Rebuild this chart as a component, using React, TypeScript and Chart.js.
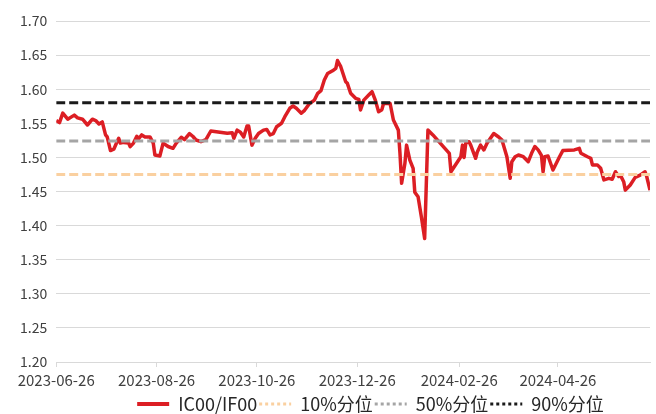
import React, { useEffect, useRef } from "react";
import { Chart, registerables } from "chart.js";

Chart.register(...registerables);

// Calendar days since 2023-06-26 for each observation
const START_DATE = "2023-06-26";
const END_DAY = 361; // 2024-06-21

const dayOffsets = [
  0, 2, 4, 7, 11, 13, 16, 19, 22, 24, 26, 28, 30, 31, 33, 35, 37, 38, 39, 41,
  44, 45, 47, 49, 50, 52, 54, 57, 59, 60, 63, 65, 68, 71, 73, 76, 78, 81, 83, 85,
  88, 91, 94, 104, 107, 108, 110, 112, 114, 116, 117, 119, 121, 123, 126, 128, 130, 132, 134, 137,
  139, 142, 144, 146, 149, 151, 154, 157, 159, 161, 163, 165, 168, 170, 171, 173, 176, 177, 179, 182,
  184, 185, 187, 190, 192, 194, 196, 198, 199, 203, 205, 208, 209, 210, 212, 213, 215, 217, 218, 220,
  222, 224, 226, 229, 239, 240, 244, 246, 247, 248, 249, 251, 252, 255, 256, 258, 260, 262, 264, 266,
  269, 271, 274, 276, 277, 279, 281, 284, 287, 289, 291, 293, 295, 296, 297, 299, 302, 303, 306, 308,
  315, 318, 319, 323, 325, 326, 329, 331, 333, 336, 338, 340, 342, 343, 345, 346, 349, 352, 355, 358,
  359, 361,
];

const ratioValues = [
  1.554, 1.551, 1.565, 1.556, 1.562, 1.558, 1.556, 1.5475, 1.556, 1.554, 1.549, 1.552, 1.533, 1.53, 1.51, 1.512, 1.523, 1.528, 1.521, 1.522,
  1.521, 1.5157, 1.521, 1.531, 1.527, 1.533, 1.53, 1.53, 1.521, 1.5035, 1.502, 1.521, 1.516, 1.5133, 1.521, 1.5295, 1.526, 1.535, 1.531, 1.5255,
  1.523, 1.526, 1.5387, 1.5353, 1.536, 1.528, 1.54, 1.537, 1.53, 1.546, 1.546, 1.518, 1.528, 1.535, 1.54, 1.541, 1.533, 1.535, 1.545, 1.55,
  1.5597, 1.572, 1.5754, 1.572, 1.5647, 1.569, 1.579, 1.584, 1.594, 1.598, 1.6135, 1.623, 1.627, 1.6306, 1.642, 1.633, 1.611, 1.6086, 1.594, 1.5866,
  1.585, 1.5695, 1.584, 1.5915, 1.5964, 1.584, 1.567, 1.57, 1.579, 1.579, 1.5548, 1.54, 1.506, 1.462, 1.4913, 1.518, 1.496, 1.484, 1.449, 1.4424,
  1.413, 1.381, 1.54, 1.533, 1.506, 1.479, 1.4937, 1.501, 1.518, 1.5, 1.521, 1.523, 1.518, 1.4987, 1.508, 1.518, 1.511, 1.521, 1.528, 1.535,
  1.53, 1.5255, 1.501, 1.4693, 1.4937, 1.501, 1.5035, 1.501, 1.4937, 1.506, 1.516, 1.511, 1.503, 1.479, 1.501, 1.502, 1.4815, 1.4863, 1.501, 1.51,
  1.511, 1.5133, 1.506, 1.501, 1.4987, 1.489, 1.489, 1.484, 1.467, 1.4693, 1.468, 1.479, 1.472, 1.474, 1.4644, 1.452, 1.4596, 1.4707, 1.474, 1.479,
  1.472, 1.452,
];

const pct10 = 1.475;
const pct50 = 1.524;
const pct90 = 1.58;

const seriesLabels = ["IC00/IF00", "10%分位", "50%分位", "90%分位"];
const xTickLabels = ["2023-06-26", "2023-08-26", "2023-10-26", "2023-12-26", "2024-02-26", "2024-04-26"];

const dayOf = (s: string) => Math.round((Date.parse(s) - Date.parse(START_DATE)) / 864e5);

const FONT = "'Noto Sans CJK SC', 'Noto Sans', sans-serif";

const legendShift = {
  id: "legendShift",
  afterLayout(chart: any) {
    const lg = chart.legend;
    if (lg) {
      lg.left += 40;
      lg.right += 40;
    }
  },
};

export default function App() {
  const ref = useRef<HTMLCanvasElement | null>(null);

  useEffect(() => {
    if (!ref.current) return;
    const flat = (v: number) => [
      { x: 0, y: v },
      { x: END_DAY, y: v },
    ];
    const tickDays = xTickLabels.map(dayOf);
    const chart = new Chart(ref.current, {
      type: "line",
      data: {
        datasets: [
          {
            label: seriesLabels[0],
            data: dayOffsets.map((d, i) => ({ x: d, y: ratioValues[i] })),
            borderColor: "#dc1e24",
            backgroundColor: "#dc1e24",
            borderWidth: 3.5,
            pointRadius: 0,
            tension: 0,
            borderJoinStyle: "round",
            order: 1,
          },
          {
            label: seriesLabels[1],
            data: flat(pct10),
            borderColor: "#fad0a0",
            backgroundColor: "#fad0a0",
            borderWidth: 3,
            borderDash: [9, 4],
            pointRadius: 0,
            order: 0,
          },
          {
            label: seriesLabels[2],
            data: flat(pct50),
            borderColor: "#a5a5a5",
            backgroundColor: "#a5a5a5",
            borderWidth: 3,
            borderDash: [9, 4],
            pointRadius: 0,
            order: 0,
          },
          {
            label: seriesLabels[3],
            data: flat(pct90),
            borderColor: "#1a1a1a",
            backgroundColor: "#1a1a1a",
            borderWidth: 3,
            borderDash: [9, 4],
            pointRadius: 0,
            order: 0,
          },
        ],
      },
      options: {
        animation: false,
        responsive: false,
        maintainAspectRatio: false,
        layout: { padding: { left: 11, right: 6, top: 21, bottom: -9 } },
        scales: {
          x: {
            type: "linear",
            min: 0,
            max: END_DAY,
            afterBuildTicks: (axis: any) => {
              axis.ticks = tickDays.map((v) => ({ value: v }));
            },
            ticks: {
              autoSkip: false,
              maxRotation: 0,
              padding: 4,
              color: "#404040",
              font: { family: FONT, size: 15 },
              callback: (value: any) => {
                const i = tickDays.indexOf(Number(value));
                return i >= 0 ? xTickLabels[i] : "";
              },
            },
            grid: {
              display: true,
              drawOnChartArea: false,
              drawTicks: true,
              tickLength: 5,
              color: "#d9d9d9",
            },
            border: { display: true, color: "#d9d9d9", width: 1 },
          },
          y: {
            min: 1.2,
            max: 1.7,
            ticks: {
              stepSize: 0.05,
              padding: 9,
              color: "#404040",
              font: { family: FONT, size: 14 },
              callback: (v: any) => Number(v).toFixed(2),
            },
            grid: { color: "#d9d9d9", drawTicks: false, lineWidth: 1 },
            border: { display: false },
          },
        },
        plugins: {
          tooltip: { enabled: false },
          legend: {
            position: "bottom",
            labels: {
              usePointStyle: true,
              pointStyleWidth: 32,
              padding: 2,
              color: "#262626",
              font: { family: FONT, size: 18 },
              sort: (a: any, b: any) => a.datasetIndex - b.datasetIndex,
              generateLabels: (c: any) => {
                const items = (Chart.defaults.plugins.legend.labels as any).generateLabels(c);
                items.forEach((it: any) => {
                  it.pointStyle = "line";
                  if (it.datasetIndex === 0) {
                    it.lineDash = [];
                    it.lineWidth = 4;
                  } else {
                    it.lineDash = [3, 3];
                    it.lineWidth = 3;
                  }
                });
                return items;
              },
            },
          },
        },
      },
      plugins: [legendShift],
    } as any);
    return () => chart.destroy();
  }, []);

  return (
    <div style={{ position: "absolute", left: 0, top: 0, width: 656, height: 414, background: "#fff" }}>
      <canvas ref={ref} width={656} height={414} style={{ width: 656, height: 414 }} />
    </div>
  );
}
